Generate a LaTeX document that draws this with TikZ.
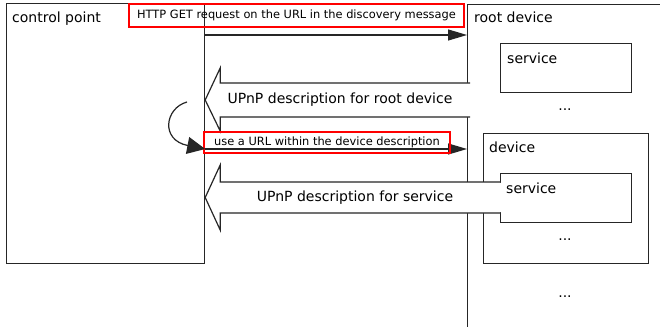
\documentclass[tikz,border=0pt]{standalone}
\usepackage{fontspec}
\setmainfont{DejaVu Sans}
\usetikzlibrary{arrows.meta,calc}

\tikzset{
  ink/.style={draw=black!85, line width=1.2pt},
  box/.style={ink, rectangle, inner sep=0pt, anchor=north west},
  lbl/.style={inner sep=0pt, font=\fontsize{14}{16}\selectfont},
  small/.style={inner sep=0pt, font=\fontsize{11.4}{13}\selectfont},
  redbox/.style={draw=red, line width=1.6pt, rectangle, inner sep=0pt},
  msg/.style={ink, -{Triangle[length=19pt,width=11pt]}},
  fat/.style={ink, fill=white, line join=miter},
  loopback/.style={ink, -{Triangle[length=18pt,width=17pt]}},
}

\begin{document}
\begin{tikzpicture}[x=1pt,y=-1pt]
  \clip (0,0) rectangle (660,326);
  \fill[white] (0,0) rectangle (660,326);

  % participants
  \node[box, minimum width=198pt, minimum height=260pt] (cp) at (6,3) {};
  \node[box, minimum width=240pt, minimum height=400pt] (rd) at (467,4) {};
  \node[box, minimum width=131pt, minimum height=49pt] (svc1) at (500,43) {};
  \node[box, minimum width=165pt, minimum height=130pt] (dev) at (483,133) {};
  \node[box, minimum width=131pt, minimum height=49pt] (svc2) at (500,173) {};

  % message rows
  \coordinate (y1) at (0,35);
  \coordinate (y2) at (0,100);
  \coordinate (y3) at (0,149);
  \coordinate (y4) at (0,197.5);

  % responses (wide outlined arrows)
  \coordinate (tip1) at (cp.east |- y2);
  \filldraw[fat] (470,83) -- ($(tip1)+(15,-17)$) -- ($(tip1)+(15,-32)$) -- (tip1)
     -- ($(tip1)+(15,31)$) -- ($(tip1)+(15,17)$) -- (470,117);
  \node[lbl] (r1) at (340,100) {UPnP description for root device};

  \coordinate (tip2) at (cp.east |- y4);
  \filldraw[fat] (500,182) -- ($(tip2)+(15,-15.5)$) -- ($(tip2)+(15,-32.5)$) -- (tip2)
     -- ($(tip2)+(15,32.5)$) -- ($(tip2)+(15,15.5)$) -- (500,213);
  \fill[white] (498,183) rectangle (501.5,212);
  \node[lbl] (r2) at (355,197.5) {UPnP description for service};

  % labels of the participants
  \node[lbl, anchor=west] (cpl) at (12,19) {control point};
  \node[lbl, anchor=west] (rdl) at (474,17.5) {root device};
  \node[lbl, anchor=west] (s1l) at (507,58) {service};
  \node[lbl, anchor=west] (dvl) at (489,147.5) {device};
  \node[lbl, anchor=west] (s2l) at (506,188) {service};
  \node[lbl] (d1) at (565,110) {...};
  \node[lbl] (d2) at (565,240) {...};
  \node[lbl] (d3) at (565,297) {...};

  % requests
  \draw[msg] (cp.east |- y1) -- (rd.west |- y1);
  \draw[msg] (cp.east |- y3) -- (rd.west |- y3);

  \node[redbox, small, minimum width=335pt, minimum height=23pt] (q1) at (296.5,15.5)
    {HTTP GET request on the URL in the discovery message};
  \node[redbox, small, minimum width=246pt, minimum height=21pt] (q2) at (327,142.5)
    {use a URL within the device description};

  % the control point follows a URL from the received description
  \coordinate (lp) at (187,102);
  \draw[loopback] (lp) .. controls (165,108) and (160,140) .. (cp.east |- y3);
\end{tikzpicture}
\end{document}
